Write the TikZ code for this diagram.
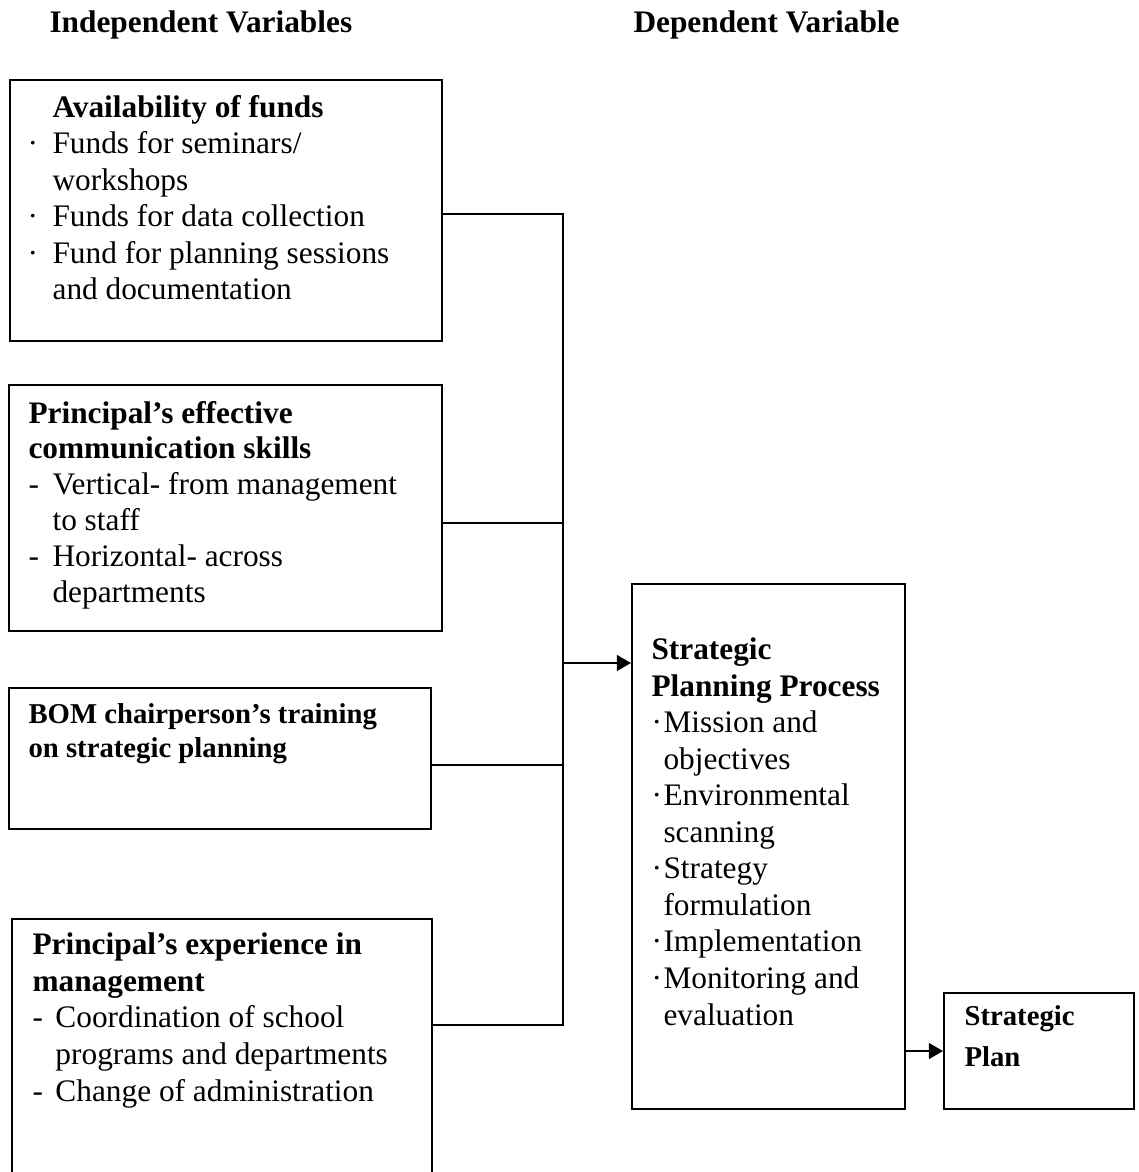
\documentclass[tikz,border=0pt]{standalone}
\usepackage{fontspec}
\setmainfont{Liberation Serif}
\usepackage{tikz}
\usetikzlibrary{arrows.meta,calc,positioning}

% leading mark of a list line, in a box of fixed width
\newcommand{\lead}[2]{\makebox[#1][l]{#2}}

\tikzset{
  box/.style 2 args={draw, line width=0.8pt, inner sep=0pt, anchor=north west,
    minimum width=#1*0.383pt, minimum height=#2*0.383pt},
  txt/.style={inner sep=0pt, anchor=base west, align=left,
    font=\fontsize{12}{14}\selectfont},
  link/.style={line width=0.8pt},
  feed/.style={line width=0.8pt, -{Triangle[length=5.4pt,width=6pt]}}
}

\begin{document}
\begin{tikzpicture}[x=0.383pt,y=-0.383pt]
            \useasboundingbox (0,0) rectangle (1138,1172);
            % Column titles
            \node[txt] (indep) at (49,33) {\textbf{Independent Variables}};
            \node[txt] (dep) at (633,33) {\textbf{Dependent Variable}};
            % Boxes
            \node[box={432}{261}] (funds) at (9,79) {};
            \node[box={433}{246}] (comm) at (8,384) {};
            \node[box={422}{141}] (bom) at (8,687) {};
            \node[box={420}{280}] (exper) at (11,918) {};
            \node[box={273}{525}] (spp) at (631,583) {};
            \node[box={190}{116}] (plan) at (943,992) {};
            % Texts of the boxes (placed at the baseline of their last line)
            \node[txt] (fundstxt) at (27,300) {\lead{9.6pt}{}\textbf{Availability of funds}\\
              \lead{9.6pt}{·}Funds for seminars/\\
              \lead{9.6pt}{}workshops\\
              \lead{9.6pt}{·}Funds for data collection\\
              \lead{9.6pt}{·}Fund for planning sessions\\
              \lead{9.6pt}{}and documentation};
            \node[txt, font=\fontsize{12}{13.7}\selectfont] (commtxt) at (28,602)
              {\textbf{Principal’s effective}\\
              \textbf{communication skills}\\
              \lead{9.2pt}{-}Vertical- from management\\
              \lead{9.2pt}{}to staff\\
              \lead{9.2pt}{-}Horizontal- across\\
              \lead{9.2pt}{}departments};
            \node[txt, font=\fontsize{11}{13}\selectfont\bfseries] (bomtxt) at (28,757)
              {BOM chairperson’s training\\on strategic planning};
            \node[txt] (expertxt) at (32,1101) {\textbf{Principal’s experience in}\\
              \textbf{management}\\
              \lead{8.8pt}{-}Coordination of school\\
              \lead{8.8pt}{}programs and departments\\
              \lead{8.8pt}{-}Change of administration};
            \node[txt] (spptxt) at (651,1025) {\textbf{Strategic}\\
              \textbf{Planning Process}\\
              \lead{4.6pt}{·}Mission and\\
              \lead{4.6pt}{}objectives\\
              \lead{4.6pt}{·}Environmental\\
              \lead{4.6pt}{}scanning\\
              \lead{4.6pt}{·}Strategy\\
              \lead{4.6pt}{}formulation\\
              \lead{4.6pt}{·}Implementation\\
              \lead{4.6pt}{·}Monitoring and\\
              \lead{4.6pt}{}evaluation};
            \node[txt, font=\fontsize{11}{15.7}\selectfont\bfseries] (plantxt) at (964,1066)
              {Strategic\\Plan};
            % Joining line
            \coordinate (j1) at (563,214);
            \coordinate (j2) at (563,523);
            \coordinate (j3) at (563,765);
            \coordinate (j4) at (563,1025);
            \coordinate (j0) at (563,663);
            \draw[link] (funds.east |- j1) -- (j1) -- (j4) -- (exper.east |- j4);
            \draw[link] (comm.east |- j2) -- (j2);
            \draw[link] (bom.east |- j3) -- (j3);
            \draw[feed] (j0) -- (spp.west |- j0);
            \draw[feed] (plan.west -| spp.east) -- (plan.west);
          \end{tikzpicture}
\end{document}
